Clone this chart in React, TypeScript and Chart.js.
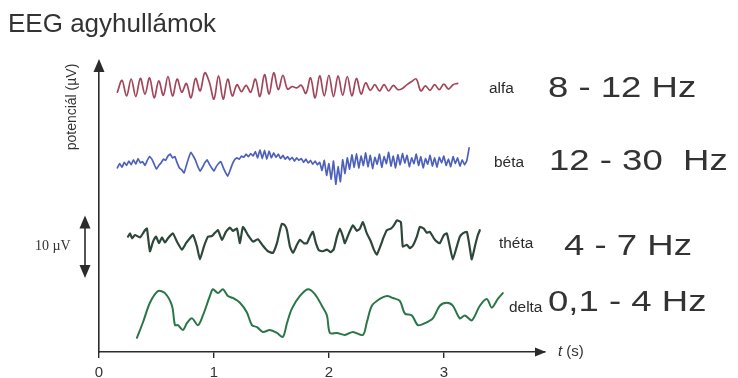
import { useEffect, useRef } from "react";
import { Chart, registerables } from "chart.js";

Chart.register(...registerables);

// ---- time axis (seconds) ----
const X_TICKS = [0, 1, 2, 3];
const T_MAX = 3.88;
const Y_MAX = 46; // µV span of the stacked traces

// ---- alfa (8-12 Hz), sampled every 40 ms from 0.16 s ----
const ALFA_T0 = 0.16;
const ALFA_DT = 0.04;
const ALFA_OFFSET = 42.3;
const ALFA = [
  -0.8, 1.1, -1.4, 1.3, -1.5, 1.4, -1.1, 1.5, -1.7, 1.0,
  -1.3, 1.7, -1.4, 1.3, -0.8, 0.6, -1.7, 1.4, -0.6, 2.3,
  0.8, -1.9, 1.8, -1.9, 1.3, -1.4, 0.4, -0.7, 0.3, -0.8,
  1.3, -1.5, 2.0, -1.1, 2.3, -0.4, 1.9, -0.3, 0.1, -0.1,
  0.3, -1.0, 1.5, -1.7, 1.8, -1.4, 1.9, -1.5, 1.8, -1.3,
  1.7, -1.4, 1.4, -1.1, 0.7, -0.5, 0.4, -0.6, 0.4, -0.6,
  0.3, -0.4, -0.2, 0.4, 0.9, 1.3, -0.6, 0.2, -0.5, 0.4,
  -0.4, 0.5, -0.3, 0.4, 0.6,
];

// ---- béta (12-30 Hz), sampled every 20 ms from 0.16 s ----
const BETA_T0 = 0.16;
const BETA_DT = 0.02;
const BETA_OFFSET = 30.4;
const BETA = [
  -1.0, -0.3, -0.9, -0.1, -0.6, 0.1, -0.5, 0.3, -0.4, 0.5,
  -0.2, 0.0, -0.6, 0.2, 0.8, 0.4, -0.4, -1.2, -0.6, -0.2,
  0.4, 0.2, 0.9, 1.2, 0.6, 0.8, -0.2, -1.0, -1.3, -1.8,
  -0.6, 0.6, 1.5, 0.9, 0.2, -0.8, -1.5, -0.9, -0.2, 0.3,
  -0.4, -1.0, -1.5, -0.8, -0.3, 0.0, -0.9, -1.7, -2.3, -1.4,
  -0.4, 0.3, 0.6, 0.4, 0.9, 0.7, 1.2, 0.8, 1.3, 0.9,
  1.6, 0.6, 1.9, 0.5, 1.8, 0.4, 1.7, 0.6, 1.4, 0.7,
  1.2, 0.5, 1.0, 0.4, 0.8, 0.3, 0.7, 0.1, 0.6, 0.2,
  0.5, -0.1, 0.4, -0.2, 0.2, -0.4, 0.1, -0.5, -0.1, -1.4,
  0.2, -2.2, -0.3, -2.8, 0.1, -3.6, -0.8, -3.2, 0.3, -1.9,
  0.6, -1.2, 1.1, -0.9, 1.3, -1.0, 0.9, -0.6, 1.4, -0.8,
  1.0, -1.1, 0.7, -0.4, 1.2, -0.9, 0.8, -0.3, 1.5, -0.7,
  0.9, -1.0, 1.1, -0.5, 1.3, -0.2, 1.0, -0.8, 0.6, -0.3,
  1.2, -0.6, 0.8, -1.0, 0.5, -0.4, 1.0, -0.7, 0.6, -0.9,
  0.7, -0.2, 0.9, -0.6, 0.4, -0.8, 0.8, -0.3, 0.6, -0.7,
  0.3, -0.5, 0.2, 2.2,
];

// ---- théta (4-7 Hz) ----
const THETA_OFFSET = 17.9;
const THETA_T = [
  0.252, 0.270, 0.287, 0.313, 0.357, 0.400, 0.417, 0.443, 0.470, 0.496,
  0.522, 0.548, 0.574, 0.600, 0.643, 0.678, 0.722, 0.757, 0.791, 0.817,
  0.852, 0.878, 0.913, 0.948, 0.983, 1.009, 1.035, 1.070, 1.104, 1.139,
  1.165, 1.200, 1.226, 1.252, 1.296, 1.339, 1.383, 1.426, 1.470, 1.513,
  1.548, 1.574, 1.591, 1.617, 1.635, 1.661, 1.687, 1.722, 1.748, 1.783,
  1.809, 1.835, 1.861, 1.887, 1.913, 1.948, 1.983, 2.017, 2.043, 2.070,
  2.096, 2.122, 2.139, 2.174, 2.209, 2.243, 2.270, 2.296, 2.330, 2.365,
  2.391, 2.417, 2.452, 2.478, 2.504, 2.539, 2.565, 2.591, 2.626, 2.643,
  2.678, 2.704, 2.730, 2.765, 2.791, 2.826, 2.852, 2.878, 2.913, 2.939,
  2.965, 3.000, 3.026, 3.052, 3.078, 3.113, 3.139, 3.165, 3.200, 3.226,
  3.243, 3.270, 3.296, 3.313,
];
const THETA = [
  0.52, 1.04, 0.26, 0.78, 0.41, 1.55, 1.81, -1.81, -0.26, 0.52,
  -0.52, 0.41, -0.41, 0.26, 1.04, -0.26, -1.55, -0.52, 0.26, 0.78,
  -1.04, -3.11, -1.04, 0.52, 0.62, 1.14, 1.55, 0, 1.30, 1.97,
  1.45, 1.81, -0.52, 2.07, 0.78, -0.26, 0.10, -0.93, -1.81, -2.07,
  -0.52, 1.55, 2.59, 2.33, 1.55, -1.04, -2.07, -0.78, 0, -0.52,
  -0.52, 0.52, 1.30, -0.52, -1.66, -1.81, -1.55, -1.97, -1.45, 0.52,
  1.81, 0.52, -0.52, 1.04, 2.33, 1.45, 1.81, 2.85, 1.04, -0.26,
  -1.55, -2.33, -0.78, 0.52, 1.55, 1.81, 2.33, 3.11, 2.85, -1.04,
  -0.78, -1.30, -0.93, 0.52, 2.07, 1.81, 1.14, 1.30, 0.26, -0.26,
  -0.52, 0.78, 1.04, -1.04, -3.11, -1.04, 0.52, 1.04, 1.30, -1.30,
  -3.11, -1.04, 0.78, 1.55,
];

// ---- delta (0.1-4 Hz) ----
const DELTA_OFFSET = 3.2;
const DELTA_T = [
  0.330, 0.383, 0.443, 0.513, 0.574, 0.635, 0.661, 0.687, 0.730, 0.765,
  0.809, 0.861, 0.904, 0.965, 0.991, 1.035, 1.078, 1.122, 1.165, 1.226,
  1.287, 1.330, 1.374, 1.426, 1.487, 1.548, 1.600, 1.635, 1.678, 1.748,
  1.817, 1.878, 1.939, 1.983, 2.009, 2.070, 2.139, 2.209, 2.296, 2.330,
  2.374, 2.443, 2.504, 2.557, 2.617, 2.661, 2.722, 2.774, 2.835, 2.904,
  2.965, 3.026, 3.078, 3.139, 3.183, 3.243, 3.313, 3.374, 3.417, 3.470,
  3.513,
];
const DELTA = [
  -0.93, 1.55, 4.66, 6.52, 6.21, 4.19, 1.09, 1.09, 0.31, 1.40,
  2.17, 1.09, 2.64, 5.75, 6.83, 6.21, 6.83, 5.75, 5.43, 4.66,
  3.11, 1.09, 0.78, 0, 0.31, -0.16, -0.78, 1.40, 3.73, 5.75,
  6.83, 6.06, 4.19, 2.64, -0.16, -0.16, -0.47, 0, -0.47, 1.55,
  4.19, 5.28, 5.75, 5.43, 4.97, 2.95, 2.64, 1.09, 1.40, 2.17,
  4.19, 4.66, 4.19, 2.17, 2.64, 1.86, 4.19, 5.28, 3.88, 5.28,
  6.21,
];

// ---- labels ----
const TITLE = "EEG agyhullámok";
const Y_TITLE = "potenciál (µV)";
const SCALE_LABEL = "10 µV";
const SCALE_SPAN = 10; // µV
const SCALE_CENTER = 16.8; // µV
const WAVE_NAMES = ["alfa", "béta", "théta", "delta"];
const BANDS = ["8 - 12 Hz", "12 - 30  Hz", "4 - 7 Hz", "0,1 - 4 Hz"];

const COLORS = ["#a3465a", "#4d61bb", "#2e473b", "#2a7647"];

const SANS = '"Liberation Sans", Arial, sans-serif';
const SERIF = '"Liberation Serif", "Times New Roman", serif';

function sampled(t0: number, dt: number, vals: number[], offset: number) {
  return vals.map((v, i) => ({ x: t0 + i * dt, y: v + offset }));
}
function paired(ts: number[], vals: number[], offset: number) {
  return vals.map((v, i) => ({ x: ts[i], y: v + offset }));
}

function arrowHead(ctx: CanvasRenderingContext2D, tipX: number, tipY: number, dir: "up" | "down" | "right", len: number, half: number) {
  ctx.beginPath();
  if (dir === "up") {
    ctx.moveTo(tipX, tipY);
    ctx.lineTo(tipX - half, tipY + len);
    ctx.lineTo(tipX + half, tipY + len);
  } else if (dir === "down") {
    ctx.moveTo(tipX, tipY);
    ctx.lineTo(tipX - half, tipY - len);
    ctx.lineTo(tipX + half, tipY - len);
  } else {
    ctx.moveTo(tipX, tipY);
    ctx.lineTo(tipX - len, tipY - half);
    ctx.lineTo(tipX - len, tipY + half);
  }
  ctx.closePath();
  ctx.fill();
}

function stretchedText(ctx: CanvasRenderingContext2D, text: string, x: number, y: number, sx: number) {
  ctx.save();
  ctx.translate(x, y);
  ctx.scale(sx, 1);
  ctx.fillText(text, 0, 0);
  ctx.restore();
}

const decorations = {
  id: "eegDecorations",
  afterDraw(chart: any) {
    const ctx: CanvasRenderingContext2D = chart.ctx;
    const { left, top, right, bottom } = chart.chartArea;
    const ys = chart.scales.y;
    ctx.save();
    ctx.fillStyle = "#2b2b2b";
    ctx.strokeStyle = "#2b2b2b";

    // axis arrowheads
    arrowHead(ctx, left, top - 5, "up", 13, 5.5);
    arrowHead(ctx, right + 1, bottom, "right", 11, 4.5);

    // 10 µV scale bar
    const yTop = ys.getPixelForValue(SCALE_CENTER + SCALE_SPAN / 2);
    const yBot = ys.getPixelForValue(SCALE_CENTER - SCALE_SPAN / 2);
    const bx = 85;
    ctx.lineWidth = 1.6;
    ctx.beginPath();
    ctx.moveTo(bx, yTop + 8);
    ctx.lineTo(bx, yBot - 8);
    ctx.stroke();
    arrowHead(ctx, bx, yTop, "up", 13, 5.5);
    arrowHead(ctx, bx, yBot, "down", 13, 5.5);

    // title
    ctx.fillStyle = "#333";
    ctx.textBaseline = "alphabetic";
    ctx.textAlign = "left";
    ctx.font = `26px ${SANS}`;
    ctx.fillText(TITLE, 8, 32);

    // vertical axis title
    ctx.save();
    ctx.translate(76, 107);
    ctx.rotate(-Math.PI / 2);
    ctx.textAlign = "center";
    ctx.font = `14px ${SANS}`;
    ctx.fillText(Y_TITLE, 0, 0);
    ctx.restore();

    // scale bar label
    ctx.font = `14px ${SERIF}`;
    ctx.fillText(SCALE_LABEL, 35, 250);

    // time axis label
    ctx.font = `italic 15px ${SANS}`;
    ctx.fillText("t", 558, 356);
    const tw = ctx.measureText("t").width;
    ctx.font = `15px ${SANS}`;
    ctx.fillText(" (s)", 558 + tw, 356);

    // wave names and frequency bands
    const namePos = [[489, 93], [494, 167], [499, 248], [509, 312]];
    const bandPos = [[548, 97], [549, 170], [564, 255], [548, 311]];
    ctx.fillStyle = "#2a2a2a";
    ctx.font = `14px ${SANS}`;
    WAVE_NAMES.forEach((n, i) => stretchedText(ctx, n, namePos[i][0], namePos[i][1], 1.1));
    ctx.fillStyle = "#333";
    ctx.font = `29px ${SANS}`;
    BANDS.forEach((b, i) => stretchedText(ctx, b, bandPos[i][0], bandPos[i][1], 1.26));

    ctx.restore();
  },
};

export default function App() {
  const ref = useRef<HTMLCanvasElement | null>(null);

  useEffect(() => {
    if (!ref.current) return;
    const line = (data: any[], color: string, width: number, tension: number) => ({
      data,
      borderColor: color,
      borderWidth: width,
      pointRadius: 0,
      tension,
      borderJoinStyle: "round" as const,
      borderCapStyle: "round" as const,
      fill: false,
    });

    const chart = new Chart(ref.current, {
      type: "line",
      data: {
        datasets: [
          line(sampled(ALFA_T0, ALFA_DT, ALFA, ALFA_OFFSET), COLORS[0], 1.7, 0.35),
          line(sampled(BETA_T0, BETA_DT, BETA, BETA_OFFSET), COLORS[1], 1.7, 0.1),
          line(paired(THETA_T, THETA, THETA_OFFSET), COLORS[2], 2.2, 0.15),
          line(paired(DELTA_T, DELTA, DELTA_OFFSET), COLORS[3], 2, 0.3),
        ],
      },
      options: {
        animation: false,
        responsive: false,
        events: [],
        layout: { padding: { left: 99, top: 64, right: 193, bottom: 0 } },
        plugins: { legend: { display: false }, tooltip: { enabled: false }, title: { display: false } },
        scales: {
          x: {
            type: "linear",
            min: 0,
            max: T_MAX,
            afterBuildTicks: (s: any) => {
              s.ticks = X_TICKS.map((v) => ({ value: v }));
            },
            afterFit: (s: any) => {
              s.height = 26;
            },
            ticks: {
              color: "#333",
              font: { family: SANS, size: 15 },
              padding: 6,
              maxRotation: 0,
              autoSkip: false,
            },
            grid: { drawOnChartArea: false, drawTicks: true, tickLength: 6, color: "#2b2b2b", lineWidth: 1.4 },
            border: { display: true, color: "#2b2b2b", width: 1.6 },
          },
          y: {
            type: "linear",
            min: 0,
            max: Y_MAX,
            afterFit: (s: any) => {
              s.width = 0;
            },
            ticks: { display: false },
            grid: { drawOnChartArea: false, drawTicks: false, display: false },
            border: { display: true, color: "#2b2b2b", width: 1.6 },
          },
        },
      },
      plugins: [decorations],
    });
    return () => chart.destroy();
  }, []);

  return (
    <div style={{ position: "absolute", left: 0, top: 0, width: 738, height: 378, background: "#fff" }}>
      <canvas ref={ref} width={738} height={378} />
    </div>
  );
}
